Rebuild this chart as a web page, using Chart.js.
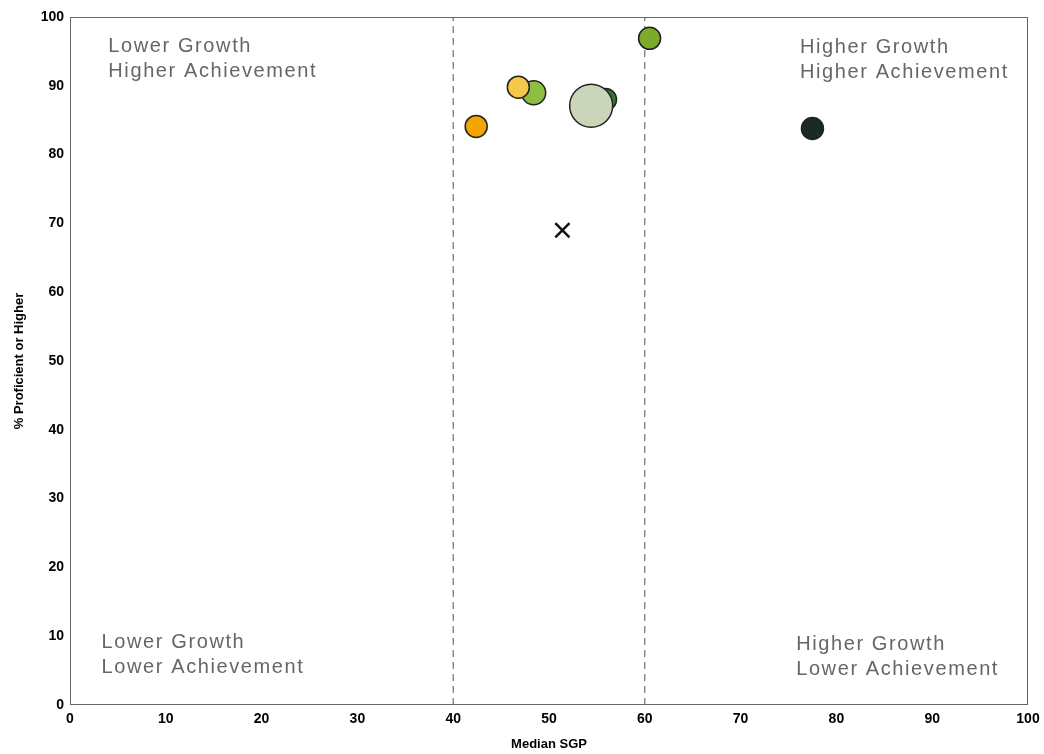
<!DOCTYPE html>
<html lang="en">
<head>
    <meta charset="UTF-8">
    <title>Median SGP vs % Proficient</title>
    <script src="https://cdn.jsdelivr.net/npm/chart.js"></script>
    <style>
        html, body { margin: 0; padding: 0; background: #fff; }
        .chart-container { position: relative; width: 1044px; height: 754px; }
    </style>
</head>
<body>
    <div class="chart-container">
        <canvas id="growthChart"></canvas>
    </div>

    <script>
        // school points (drawn in this order, later ones on top)
        const medianSgp = [42.4, 55.9, 48.4, 46.8, 54.4, 60.5, 77.5];
        const pctProficient = [84.1, 88.0, 89.0, 89.8, 87.1, 96.9, 83.8];
        const bubbleSize = [11, 11, 12, 11, 21.5, 11, 11];
        const bubbleColors = ['#f5a500', '#2f7a2c', '#8cbf3f', '#f5c84c', '#cbd5ba', '#7eaa2a', '#1c2b22'];

        // state marker
        const stateSgp = [51.4];
        const statePct = [69];

        // cut lines for growth
        const cutLines = [40, 60];

        // quadrant captions
        const quadrantText = [
            { x: 4.0, y: 97.2, lines: ['Lower Growth', 'Higher Achievement'] },
            { x: 76.2, y: 97.0, lines: ['Higher Growth', 'Higher Achievement'] },
            { x: 3.3, y: 10.5, lines: ['Lower Growth', 'Lower Achievement'] },
            { x: 75.8, y: 10.2, lines: ['Higher Growth', 'Lower Achievement'] }
        ];

        const bubbleData = medianSgp.map((v, i) => ({ x: v, y: pctProficient[i], r: bubbleSize[i] }));
        const stateData = stateSgp.map((v, i) => ({ x: v, y: statePct[i] }));

        const cutDatasets = cutLines.map(v => ({
            type: 'line',
            data: [{ x: v, y: 0 }, { x: v, y: 100 }],
            borderColor: '#555',
            borderWidth: 1,
            borderDash: [7, 5],
            pointRadius: 0,
            order: 3
        }));

        const quadrantPlugin = {
            id: 'quadrants',
            beforeDatasetsDraw(chart) {
                const { ctx, scales: { x, y } } = chart;
                ctx.save();
                ctx.font = '20px "Liberation Sans", Arial, sans-serif';
                ctx.letterSpacing = '1.6px';
                ctx.fillStyle = '#666';
                ctx.textBaseline = 'top';
                quadrantText.forEach(q => {
                    q.lines.forEach((t, i) => {
                        ctx.fillText(t, x.getPixelForValue(q.x), y.getPixelForValue(q.y) + i * 25);
                    });
                });
                ctx.restore();
            },
            afterDraw(chart) {
                const { ctx, chartArea: a } = chart;
                ctx.save();
                ctx.strokeStyle = '#666';
                ctx.lineWidth = 1;
                ctx.strokeRect(a.left + 0.5, a.top + 0.5, a.width - 1, a.height - 1);
                ctx.restore();
            }
        };

        new Chart(document.getElementById('growthChart'), {
            type: 'bubble',
            data: {
                datasets: [
                    {
                        type: 'scatter',
                        data: stateData,
                        pointStyle: 'crossRot',
                        pointRadius: 10,
                        borderColor: '#111',
                        borderWidth: 2.5,
                        order: 1
                    },
                    {
                        data: bubbleData,
                        backgroundColor: bubbleColors,
                        borderColor: '#222',
                        borderWidth: 1.5,
                        order: 2
                    },
                    ...cutDatasets
                ]
            },
            options: {
                responsive: true,
                maintainAspectRatio: false,
                animation: false,
                layout: { autoPadding: false, padding: { top: 17, right: 16, left: 0, bottom: 0 } },
                plugins: {
                    legend: { display: false },
                    tooltip: { enabled: false }
                },
                scales: {
                    x: {
                        type: 'linear',
                        min: 0,
                        max: 100,
                        afterFit: s => { s.height = 49; s.paddingLeft = 0; s.paddingRight = 0; },
                        grid: { display: false, drawTicks: false },
                        border: { display: false },
                        ticks: {
                            stepSize: 10,
                            padding: 6,
                            color: '#000',
                            font: { family: '"Liberation Sans", Arial, sans-serif', size: 14, weight: 'bold' }
                        },
                        title: {
                            display: true,
                            text: 'Median SGP',
                            color: '#000',
                            padding: { top: 0, bottom: 2 },
                            font: { family: '"Liberation Sans", Arial, sans-serif', size: 13, weight: 'bold' }
                        }
                    },
                    y: {
                        min: 0,
                        max: 100,
                        afterFit: s => { s.width = 70; s.paddingTop = 0; s.paddingBottom = 0; },
                        grid: { display: false, drawTicks: false },
                        border: { display: false },
                        ticks: {
                            stepSize: 10,
                            padding: 6,
                            color: '#000',
                            font: { family: '"Liberation Sans", Arial, sans-serif', size: 14, weight: 'bold' }
                        },
                        title: {
                            display: true,
                            text: '% Proficient or Higher',
                            color: '#000',
                            padding: { top: 12, bottom: 0 },
                            font: { family: '"Liberation Sans", Arial, sans-serif', size: 13, weight: 'bold' }
                        }
                    }
                }
            },
            plugins: [quadrantPlugin]
        });
    </script>
</body>
</html>
